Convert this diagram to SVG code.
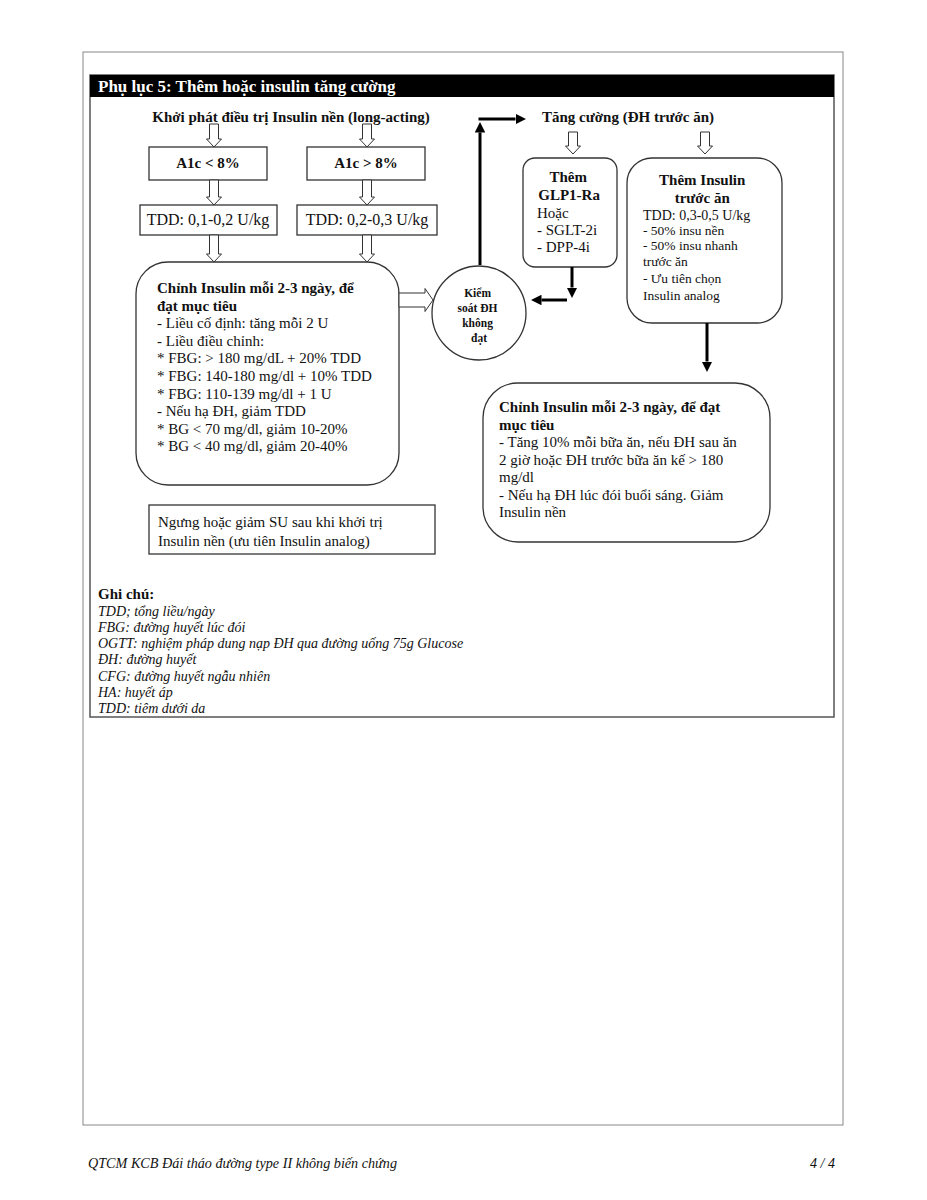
<svg xmlns="http://www.w3.org/2000/svg" width="927" height="1200" viewBox="0 0 927 1200">
<defs>
<style>
.t{font-family:"Liberation Serif","Times New Roman",serif;fill:#111}
.b{font-weight:bold}
.i{font-style:italic}
.box{fill:#fff;stroke:#333;stroke-width:1.3}
.hol{fill:#fff;stroke:#333;stroke-width:1}
.thick{stroke:#000;stroke-width:3;fill:none;marker-end:url(#ah)}
</style>
<marker id="ah" viewBox="0 0 10 10" refX="0" refY="5" markerWidth="3.5" markerHeight="3.5" orient="auto" markerUnits="strokeWidth">
<path d="M0,0 L10,5 L0,10 Z" fill="#000"/>
</marker>
</defs>
<rect width="927" height="1200" fill="#fff"/>
<rect x="83" y="52" width="760" height="1073" fill="none" stroke="#888" stroke-width="1"/>
<rect x="90" y="75" width="744" height="642" fill="none" stroke="#555" stroke-width="1.5"/>
<g id="header">
<rect x="90" y="75" width="744" height="22" fill="#000"/>
<text x="98" y="92" class="t b" font-size="17" style="fill:#fff">Phụ lục 5: Thêm hoặc insulin tăng cường</text>
</g>
<g id="title-left"><text x="291" y="122" class="t b" font-size="15" text-anchor="middle">Khởi phát điều trị Insulin nền (long-acting)</text></g>
<g id="title-right"><text x="542" y="122" class="t b" font-size="15">Tăng cường (ĐH trước ăn)</text></g>
<g id="a1c-low"><rect x="149" y="147" width="118" height="33" class="box"/><text x="208" y="168" class="t b" font-size="15" text-anchor="middle">A1c &lt; 8%</text></g>
<g id="a1c-high"><rect x="307" y="147" width="118" height="33" class="box"/><text x="366" y="168" class="t b" font-size="15" text-anchor="middle">A1c &gt; 8%</text></g>
<g id="tdd-low"><rect x="140" y="205" width="137" height="30" class="box"/><text x="208" y="225" class="t" font-size="16" text-anchor="middle">TDD: 0,1-0,2 U/kg</text></g>
<g id="tdd-high"><rect x="297" y="205" width="140" height="30" class="box"/><text x="367" y="225" class="t" font-size="16" text-anchor="middle">TDD: 0,2-0,3 U/kg</text></g>
<g id="adjust-basal">
<rect x="136" y="262" width="263" height="223" rx="32" class="box"/>
<text class="t" font-size="15">
<tspan x="157" y="293" class="b">Chỉnh Insulin mỗi 2-3 ngày, để</tspan>
<tspan x="157" y="310.6" class="b">đạt mục tiêu</tspan>
<tspan x="157" y="328.2">- Liều cố định: tăng mỗi 2 U</tspan>
<tspan x="157" y="345.8">- Liều điều chỉnh:</tspan>
<tspan x="157" y="363.4">* FBG: &gt; 180 mg/dL + 20% TDD</tspan>
<tspan x="157" y="381">* FBG: 140-180 mg/dl + 10% TDD</tspan>
<tspan x="157" y="398.6">* FBG: 110-139 mg/dl + 1 U</tspan>
<tspan x="157" y="416.2">- Nếu hạ ĐH, giảm TDD</tspan>
<tspan x="157" y="433.8">* BG &lt; 70 mg/dl, giảm 10-20%</tspan>
<tspan x="157" y="451.4">* BG &lt; 40 mg/dl, giảm 20-40%</tspan>
</text>
</g>
<g id="not-controlled">
<circle cx="479" cy="313" r="47" class="box"/>
<text class="t b" font-size="11.5" text-anchor="middle">
<tspan x="479" y="297">Kiểm</tspan>
<tspan x="479" y="312">soát ĐH</tspan>
<tspan x="479" y="327">không</tspan>
<tspan x="479" y="342">đạt</tspan>
</text>
</g>
<g id="glp1">
<rect x="523" y="158" width="94" height="109" rx="12" class="box"/>
<text class="t" font-size="15">
<tspan x="570" y="182" class="b" text-anchor="middle">Thêm</tspan>
<tspan x="571" y="200" class="b" text-anchor="middle">GLP1-Ra</tspan>
<tspan x="537" y="218">Hoặc</tspan>
<tspan x="537" y="235">- SGLT-2i</tspan>
<tspan x="537" y="252">- DPP-4i</tspan>
</text>
</g>
<g id="prandial">
<rect x="627" y="158" width="155" height="165" rx="25" class="box"/>
<text class="t" font-size="14">
<tspan x="704" y="185" class="b" font-size="15" text-anchor="middle">Thêm Insulin</tspan>
<tspan x="704" y="203" class="b" font-size="15" text-anchor="middle">trước ăn</tspan>
<tspan x="643" y="220">TDD: 0,3-0,5 U/kg</tspan>
<tspan x="643" y="235" font-size="13.5">- 50% insu nền</tspan>
<tspan x="643" y="250" font-size="13.5">- 50% insu nhanh</tspan>
<tspan x="643" y="266" font-size="13.5">trước ăn</tspan>
<tspan x="643" y="283" font-size="13.5">- Ưu tiên chọn</tspan>
<tspan x="643" y="300" font-size="13.5">Insulin analog</tspan>
</text>
</g>
<g id="adjust-prandial">
<rect x="483" y="383" width="287" height="159" rx="35" class="box"/>
<text class="t" font-size="15">
<tspan x="499" y="412" class="b">Chỉnh Insulin mỗi 2-3 ngày, để đạt</tspan>
<tspan x="499" y="429.5" class="b">mục tiêu</tspan>
<tspan x="499" y="447">- Tăng 10% mỗi bữa ăn, nếu ĐH sau ăn</tspan>
<tspan x="499" y="464.5">2 giờ hoặc ĐH trước bữa ăn kế &gt; 180</tspan>
<tspan x="499" y="482">mg/dl</tspan>
<tspan x="499" y="499.5">- Nếu hạ ĐH lúc đói buổi sáng. Giảm</tspan>
<tspan x="499" y="517">Insulin nền</tspan>
</text>
</g>
<g id="stop-su">
<rect x="149" y="505" width="286" height="49" class="box"/>
<text class="t" font-size="15">
<tspan x="158" y="527">Ngưng hoặc giảm SU sau khi khởi trị</tspan>
<tspan x="158" y="546">Insulin nền (ưu tiên Insulin analog)</tspan>
</text>
</g>
<g id="connectors">
<path class="hol" d="M209.5,124 H218.5 V139 H221.5 L214,147 L206.5,139 H209.5 Z"/>
<path class="hol" d="M362.5,124 H371.5 V139 H374.5 L367,147 L359.5,139 H362.5 Z"/>
<path class="hol" d="M209.5,180 H218.5 V197 H221.5 L214,205 L206.5,197 H209.5 Z"/>
<path class="hol" d="M362.5,180 H371.5 V197 H374.5 L367,205 L359.5,197 H362.5 Z"/>
<path class="hol" d="M209.5,235 H218.5 V254 H221.5 L214,262 L206.5,254 H209.5 Z"/>
<path class="hol" d="M362.5,235 H371.5 V254 H374.5 L367,262 L359.5,254 H362.5 Z"/>
<path class="hol" d="M568.5,132 H577.5 V146 H580.5 L573,154 L565.5,146 H568.5 Z"/>
<path class="hol" d="M700.5,132 H709.5 V146 H712.5 L705,154 L697.5,146 H700.5 Z"/>
<path class="hol" d="M399,293 H425 V288.5 L433,300 L425,311.5 V307 H399 Z"/>
<line class="thick" x1="480" y1="265" x2="480" y2="132.5"/>
<line class="thick" x1="478.5" y1="119" x2="515.5" y2="119"/>
<line class="thick" x1="572" y1="267" x2="572" y2="287.5"/>
<line class="thick" x1="567" y1="300" x2="541.5" y2="300"/>
<line class="thick" x1="707" y1="323" x2="707" y2="361.5"/>
</g>
<g id="notes">
<text x="98" y="599" class="t b" font-size="15">Ghi chú:</text>
<text class="t i" font-size="14">
<tspan x="98" y="615.5">TDD; tổng liều/ngày</tspan>
<tspan x="98" y="631.8">FBG: đường huyết lúc đói</tspan>
<tspan x="98" y="648.1">OGTT: nghiệm pháp dung nạp ĐH qua đường uống 75g Glucose</tspan>
<tspan x="98" y="664.4">ĐH: đường huyết</tspan>
<tspan x="98" y="680.7">CFG: đường huyết ngẫu nhiên</tspan>
<tspan x="98" y="697">HA: huyết áp</tspan>
<tspan x="98" y="713.3">TDD: tiêm dưới da</tspan>
</text>
</g>
<g id="footer">
<text x="88" y="1168" class="t i" font-size="14" textLength="309" lengthAdjust="spacingAndGlyphs">QTCM KCB Đái tháo đường type II không biến chứng</text>
<text x="810" y="1168" class="t i" font-size="14">4 / 4</text>
</g>
</svg>
